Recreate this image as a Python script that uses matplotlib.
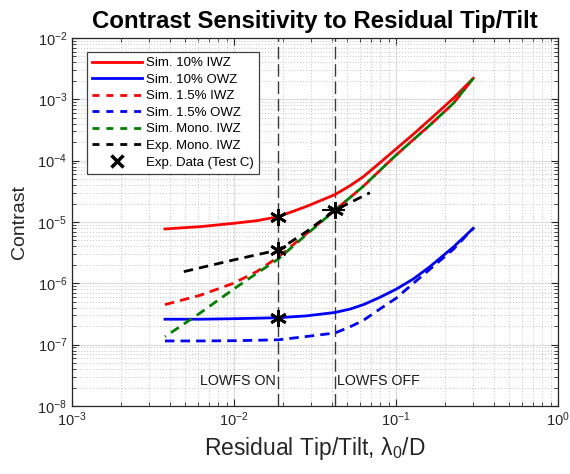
import matplotlib
matplotlib.use("Agg")
import matplotlib.pyplot as plt
from matplotlib.lines import Line2D
from matplotlib.ticker import LogLocator, NullFormatter

plt.rcParams['font.family'] = ['Liberation Sans', 'DejaVu Sans']
plt.rcParams['mathtext.fontset'] = 'custom'
plt.rcParams['mathtext.rm'] = 'Liberation Sans'
plt.rcParams['mathtext.it'] = 'Liberation Sans'
plt.rcParams['axes.unicode_minus'] = False

# ---- data ----
x_sim = [0.00375, 0.0062, 0.0099, 0.0138, 0.0188, 0.0281, 0.042, 0.052, 0.063,
         0.0794, 0.1, 0.128, 0.162, 0.226, 0.30]
sim10_iwz = [7.7e-6, 8.4e-6, 9.5e-6, 1.05e-5, 1.22e-5, 1.8e-5, 2.8e-5, 3.9e-5, 5.5e-5,
             9.2e-5, 1.55e-4, 2.7e-4, 4.7e-4, 1.04e-3, 2.2e-3]
sim10_owz = [2.6e-7, 2.6e-7, 2.65e-7, 2.7e-7, 2.75e-7, 2.95e-7, 3.35e-7, 3.8e-7, 4.5e-7,
             5.9e-7, 8.0e-7, 1.18e-6, 1.87e-6, 3.9e-6, 7.9e-6]
sim15_iwz = [4.5e-7, 6.4e-7, 1.0e-6, 1.55e-6, 2.7e-6, 6.5e-6, 1.56e-5, 2.5e-5, 3.85e-5,
             6.9e-5, 1.23e-4, 2.2e-4, 3.8e-4, 8.6e-4, 2.2e-3]
sim15_owz = [1.15e-7, 1.15e-7, 1.16e-7, 1.18e-7, 1.2e-7, 1.36e-7, 1.55e-7, 1.95e-7, 2.5e-7,
             3.8e-7, 5.7e-7, 1.0e-6, 1.7e-6, 3.6e-6, 7.9e-6]
sim_mono_iwz = [1.35e-7, 3.3e-7, 8.0e-7, 1.45e-6, 2.5e-6, 6.3e-6, 1.56e-5, 2.5e-5, 3.85e-5,
                6.9e-5, 1.23e-4, 2.2e-4, 3.8e-4, 8.6e-4, 2.2e-3]

x_exp = [0.0049, 0.0099, 0.0188, 0.0281, 0.042, 0.069]
exp_mono_iwz = [1.55e-6, 2.4e-6, 3.5e-6, 7.0e-6, 1.56e-5, 3.0e-5]

x_pts = [0.0188, 0.0188, 0.0188, 0.042]
y_pts = [1.22e-5, 3.5e-6, 2.75e-7, 1.56e-5]
xerr_lo = [0, 0, 0, 0.0072]
xerr_hi = [0, 0, 0, 0.0064]

lowfs_on = 0.0188
lowfs_off = 0.042

labels = ['Sim. 10% IWZ', 'Sim. 10% OWZ', 'Sim. 1.5% IWZ', 'Sim. 1.5% OWZ',
          'Sim. Mono. IWZ', 'Exp. Mono. IWZ', 'Exp. Data (Test C)']

# ---- figure ----
fig = plt.figure(figsize=(5.70, 4.74), dpi=100)
ax = fig.add_axes([72/570, (474-406)/474, 486/570, 368/474])
ax.set_xscale('log')
ax.set_yscale('log')
ax.set_xlim(1e-3, 1)
ax.set_ylim(1e-8, 1e-2)

# grid
ax.grid(True, which='major', color='#dcdcdc', linestyle='-', linewidth=0.9)
ax.grid(True, which='minor', color='#c4c4c4', linestyle=(0, (1, 2)), linewidth=0.7)
ax.set_axisbelow(True)

dash = (0, (3.4, 2.2))
lw = 2.0
ax.plot(x_sim, sim10_iwz, color='#ff0000', lw=lw, label=labels[0])
ax.plot(x_sim, sim10_owz, color='#0000ff', lw=lw, label=labels[1])
ax.plot(x_sim, sim15_iwz, color='#ff0000', lw=lw, ls=dash, label=labels[2])
ax.plot(x_sim, sim15_owz, color='#0000ff', lw=lw, ls=dash, label=labels[3])
ax.plot(x_sim, sim_mono_iwz, color='#008000', lw=lw, ls=(3.0, (3.4, 2.2)), label=labels[4])
ax.plot(x_exp, exp_mono_iwz, color='black', lw=lw, ls=dash, label=labels[5])

# LOWFS lines
for xv in (lowfs_on, lowfs_off):
    ax.axvline(xv, color='#3a3a3a', lw=1.0, ls=(0, (9, 3.5)), zorder=1.5)

# experimental points
ax.errorbar(x_pts, y_pts, xerr=[xerr_lo, xerr_hi], fmt='none', ecolor='black',
            elinewidth=1.5, capsize=0, zorder=5)
ax.plot(x_pts, y_pts, ls='none', marker=(6, 2, 0), markersize=12, mew=2.0,
        color='black', zorder=6)

ax.text(lowfs_on / 1.035, 2.55e-8, 'LOWFS ON', ha='right', va='center', fontsize=10.3,
        color='#1a1a1a')
ax.text(lowfs_off * 1.035, 2.55e-8, 'LOWFS OFF', ha='left', va='center', fontsize=10.3,
        color='#1a1a1a')

# ticks
ax.xaxis.set_major_locator(LogLocator(base=10, numticks=10))
ax.yaxis.set_major_locator(LogLocator(base=10, numticks=10))
ax.xaxis.set_minor_locator(LogLocator(base=10, subs=range(2, 10), numticks=20))
ax.yaxis.set_minor_locator(LogLocator(base=10, subs=range(2, 10), numticks=20))
ax.xaxis.set_minor_formatter(NullFormatter())
ax.yaxis.set_minor_formatter(NullFormatter())
ax.tick_params(which='both', direction='in', top=True, right=True, colors='#262626',
               labelsize=10.5)
ax.tick_params(which='major', length=5, width=0.8)
ax.tick_params(which='minor', length=3, width=0.6)
for s in ax.spines.values():
    s.set_color('#262626')
    s.set_linewidth(0.9)

ax.set_title('Contrast Sensitivity to Residual Tip/Tilt', fontsize=17.3,
             fontweight='bold', pad=7)
ax.set_ylabel('Contrast', fontsize=14, color='#262626', labelpad=7)
ax.set_xlabel('Residual Tip/Tilt, λ$_0$/D', fontsize=16.5, color='#262626', labelpad=4)

# legend
handles = [
    Line2D([], [], color='#ff0000', lw=2),
    Line2D([], [], color='#0000ff', lw=2),
    Line2D([], [], color='#ff0000', lw=2, ls=(0, (2.5, 2.5))),
    Line2D([], [], color='#0000ff', lw=2, ls=(0, (2.5, 2.5))),
    Line2D([], [], color='#008000', lw=2, ls=(0, (2.5, 2.5))),
    Line2D([], [], color='black', lw=2, ls=(0, (2.5, 2.5))),
    Line2D([], [], color='black', ls='none', marker='x', markersize=8, mew=2.5),
]
leg = ax.legend(handles, labels, loc='upper left', bbox_to_anchor=(0.030, 0.963),
                borderaxespad=0, fontsize=9.5, handlelength=3.8, handletextpad=0.3,
                labelspacing=0.33, borderpad=0.4, fancybox=False, framealpha=1,
                edgecolor='#404040')
leg.get_frame().set_linewidth(0.9)

fig.savefig('out.png', dpi=100)
